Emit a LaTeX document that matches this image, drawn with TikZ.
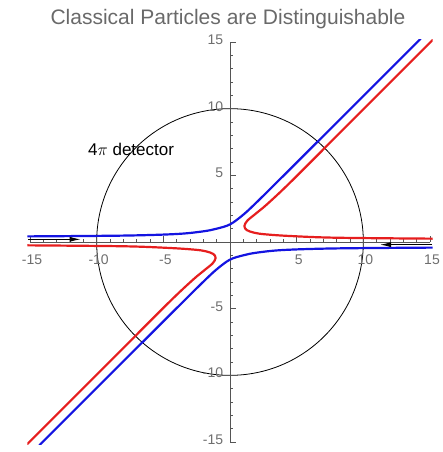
\documentclass[tikz,border=0pt]{standalone}
\usepackage{fontspec}
\setmainfont{Liberation Sans}
\usetikzlibrary{arrows.meta}
\definecolor{titlegray}{RGB}{105,105,105}
\definecolor{axisgray}{RGB}{85,85,85}
\definecolor{labelgray}{RGB}{110,110,110}
\definecolor{pblue}{RGB}{20,20,225}
\definecolor{pred}{RGB}{230,30,30}
\begin{document}
\begin{tikzpicture}[x=13.333pt,y=13.333pt,
  axisline/.style={draw=axisgray,line width=0.8pt},
  tickline/.style={draw=axisgray,line width=0.7pt},
  ticklabel/.style={text=labelgray,font=\fontsize{14}{14}\selectfont,inner sep=0pt},
  traj/.style={line width=2.2pt,line cap=round,line join=round},
  incoming/.style={draw=black,line width=0.9pt,-{Latex[length=11pt,width=5pt]}},
  detector/.style={draw=black,line width=0.8pt}]
\useasboundingbox (-17.25,-15.75) rectangle (15.9,18.15);
% title
\node[anchor=base,text=titlegray,font=\fontsize{21}{21}\selectfont,inner sep=0pt] (title) at (-0.15,16.28) {Classical Particles are Distinguishable};
% detector
\draw[detector] (0,0) circle (10);
\node[anchor=base west,font=\fontsize{17}{17}\selectfont,inner sep=0pt] (det) at (-10.65,6.45) {4$\pi$ detector};
% axes
\coordinate (xl) at (-15,0); \coordinate (xr) at (15,0);
\coordinate (yb) at (0,-15); \coordinate (yt) at (0,15);
\draw[axisline] (xl) -- (xr);
\draw[axisline] (yb) -- (yt);
\foreach \i in {-15,...,15}{
  \pgfmathtruncatemacro{\m}{mod(abs(\i),5)}
  \ifnum\i=0\relax\else
    \ifnum\m=0
      \draw[tickline] (\i,0) -- (\i,0.45);
      \draw[tickline] (0,\i) -- (0.45,\i);
    \else
      \draw[tickline] (\i,0) -- (\i,0.26);
      \draw[tickline] (0,\i) -- (0.26,\i);
    \fi
  \fi}
\foreach \v in {-15,-10,-5,5,10,15}{
  \node[ticklabel,anchor=base] at (\v+0.15,-1.72) {\v};
  \node[ticklabel,anchor=mid east] at (-0.5,\v) {\v};
}
% trajectories
\begin{scope}
\clip (-15.2,-15.2) rectangle (15.2,15.2);
\draw[traj,pblue] plot[smooth,tension=0.55] coordinates {(-15.3,0.42) (-8,0.48) (-4,0.6) (-2,0.8) (-1,1.0) (0,1.32) (1,2.05) (2,2.98) (4,4.96) (8,8.95) (14.3,15.25)};
\draw[traj,pblue] plot[smooth,tension=0.55] coordinates {(15.3,-0.42) (8,-0.48) (4,-0.6) (2,-0.8) (1,-1.0) (0,-1.32) (-1,-2.05) (-2,-2.98) (-4,-4.96) (-8,-8.95) (-14.3,-15.25)};
\draw[traj,pred] plot[smooth,tension=0.55] coordinates {(15.3,0.25) (8,0.32) (4.5,0.45) (2.6,0.58) (1.8,0.7) (1.25,0.9) (1.08,1.2) (1.3,1.6) (1.9,2.1) (2.8,2.85) (4.5,4.45) (8,7.95) (15.3,15.25)};
\draw[traj,pred] plot[smooth,tension=0.55] coordinates {(-15.3,-0.25) (-8,-0.32) (-4.5,-0.45) (-2.6,-0.58) (-1.8,-0.7) (-1.25,-0.9) (-1.08,-1.2) (-1.3,-1.6) (-1.9,-2.1) (-2.8,-2.85) (-4.5,-4.45) (-8,-7.95) (-15.3,-15.25)};
\end{scope}
% incoming arrows
\coordinate (la) at (-15.15,0.2); \coordinate (lb) at (-11.2,0.2);
\coordinate (ra) at (15.15,-0.2); \coordinate (rb) at (11.25,-0.2);
\draw[incoming] (la) -- (lb);
\draw[incoming] (ra) -- (rb);
\end{tikzpicture}
\end{document}
